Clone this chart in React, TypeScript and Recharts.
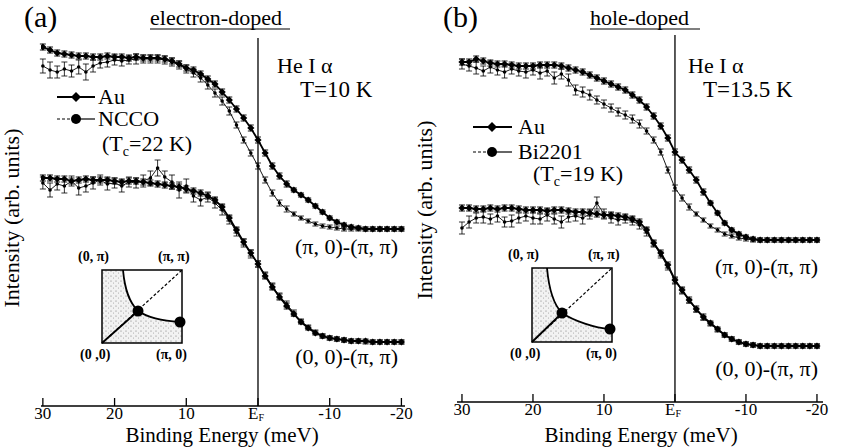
import React from 'react';
import { ComposedChart, Line, XAxis, YAxis, ErrorBar, ReferenceLine } from 'recharts';

// binding energy (meV), one point per meV
const ENERGY = [
  30, 29, 28, 27, 26, 25, 24, 23, 22, 21, 20, 19, 18, 17, 16, 15, 14, 13, 12, 11, 10,
  9, 8, 7, 6, 5, 4, 3, 2, 1, 0, -1, -2, -3, -4, -5, -6, -7, -8, -9, -10,
  -11, -12, -13, -14, -15, -16, -17, -18, -19, -20,
];

// (a) electron-doped, intensities in arb. units
const A_AU_PI0 = [
  359, 356, 353, 352, 351, 350, 350, 349, 349, 350, 349, 349, 348, 349, 348, 348, 348, 347, 345, 342, 338,
  336, 332, 327, 322, 314, 306, 297, 288, 278, 266, 253, 240, 230, 222, 216, 211, 206, 200, 194, 188,
  184, 181, 179, 178, 177, 177, 177, 177, 177, 177,
];
const A_NCCO_PI0 = [
  340, 336, 334, 337, 335, 339, 334, 340, 343, 344, 346, 345, 346, 347, 347, 347, 347, 346, 344, 341, 337,
  333, 328, 321, 313, 305, 295, 281, 266, 253, 240, 226, 213, 203, 197, 192, 188, 185, 182, 180, 179,
  178, 177, 177, 177, 177, 177, 177, 177, 177, 177,
];
const A_AU_00 = [
  228, 228, 227, 227, 225, 226, 227, 226, 226, 226, 225, 224, 225, 225, 224, 223, 222, 221, 220, 219, 217,
  215, 213, 210, 206, 199, 188, 176, 164, 153, 142, 130, 119, 109, 100, 92, 84, 78, 73, 70, 68,
  67, 66, 65, 65, 65, 64, 64, 64, 64, 64,
];
const A_NCCO_00 = [
  223, 216, 222, 220, 225, 218, 220, 223, 226, 222, 223, 220, 224, 223, 225, 228, 238, 229, 224, 216, 220,
  210, 206, 209, 203, 196, 186, 174, 163, 152, 142, 131, 120, 110, 102, 93, 85, 79, 74, 70, 68,
  67, 66, 65, 65, 64, 64, 64, 64, 64, 64,
];
const A_NCCO_PI0_ERR = [
  7, 8, 6, 7, 6, 7, 8, 6, 5, 5, 5, 5, 4, 5, 4, 4, 4, 4, 4, 4, 4,
  4, 4, 4, 4, 4, 4, 3, 3, 3, 3, 3, 3, 3, 3, 2, 2, 2, 2, 2, 2,
  2, 2, 2, 2, 2, 2, 2, 2, 2, 2,
];
const A_NCCO_00_ERR = [
  6, 7, 6, 7, 5, 7, 6, 6, 5, 6, 5, 6, 5, 5, 6, 7, 8, 6, 7, 8, 7,
  6, 6, 5, 5, 5, 4, 4, 4, 4, 3, 3, 3, 3, 3, 3, 2, 2, 2, 2, 2,
  2, 2, 2, 2, 2, 2, 2, 2, 2, 2,
];

// (b) hole-doped
const B_AU_PI0 = [
  340, 340, 343, 341, 339, 338, 338, 337, 336, 336, 336, 337, 337, 337, 336, 334, 332, 330, 327, 324, 321,
  318, 315, 312, 307, 302, 295, 286, 276, 264, 250, 242, 232, 222, 210, 199, 189, 179, 172, 168, 165,
  163, 162, 162, 162, 162, 162, 162, 162, 162, 162,
];
const B_BI_PI0 = [
  338, 336, 334, 331, 335, 332, 330, 333, 331, 330, 332, 329, 331, 324, 328, 322, 312, 310, 307, 302, 298,
  294, 290, 287, 283, 278, 271, 262, 250, 232, 214, 204, 195, 188, 182, 176, 172, 168, 166, 164, 163,
  162, 162, 162, 162, 162, 162, 162, 162, 162, 162,
];
const B_AU_00 = [
  194, 194, 193, 193, 194, 193, 194, 194, 193, 192, 192, 192, 191, 192, 192, 191, 190, 190, 189, 188, 187,
  187, 186, 185, 183, 180, 172, 159, 149, 137, 122, 112, 102, 93, 85, 79, 73, 67, 63, 60, 58,
  57, 56, 56, 56, 56, 56, 56, 56, 56, 56,
];
const B_BI_00 = [
  174, 180, 184, 185, 183, 186, 180, 181, 184, 186, 184, 183, 187, 183, 180, 185, 186, 184, 188, 199, 188,
  184, 182, 183, 181, 177, 170, 158, 147, 135, 121, 111, 101, 92, 84, 78, 72, 67, 63, 60, 58,
  57, 56, 56, 56, 56, 56, 56, 56, 56, 56,
];
const B_BI_PI0_ERR = [
  5, 5, 6, 5, 6, 5, 6, 5, 5, 6, 5, 6, 5, 6, 5, 6, 5, 5, 5, 4, 4,
  4, 4, 4, 4, 4, 3, 3, 3, 3, 3, 3, 3, 2, 2, 2, 2, 2, 2, 2, 2,
  2, 2, 2, 2, 2, 2, 2, 2, 2, 2,
];
const B_BI_00_ERR = [
  6, 6, 5, 6, 5, 6, 5, 6, 5, 5, 6, 5, 6, 5, 6, 5, 5, 6, 5, 6, 5,
  5, 5, 4, 4, 4, 4, 3, 3, 3, 3, 3, 2, 2, 2, 2, 2, 2, 2, 2, 2,
  2, 2, 2, 2, 2, 2, 2, 2, 2, 2,
];

const AU_ERR = [
  3, 3, 3, 3, 3, 3, 3, 3, 3, 3, 3, 3, 3, 3, 3, 3, 3, 3, 3, 3, 3,
  3, 3, 3, 3, 3, 3, 3, 3, 3, 3, 3, 3, 3, 3, 2, 2, 2, 2, 2, 2,
  2, 2, 2, 2, 2, 2, 2, 2, 2, 2,
];

const X_TICKS = [30, 20, 10, 0, -10, -20];

const FONT = '"Liberation Serif", "Times New Roman", serif';

const dataA = ENERGY.map((e, i) => ({
  e,
  au1: A_AU_PI0[i],
  s1: A_NCCO_PI0[i],
  au2: A_AU_00[i],
  s2: A_NCCO_00[i],
  auErr: AU_ERR[i],
  s1Err: A_NCCO_PI0_ERR[i],
  s2Err: A_NCCO_00_ERR[i],
}));

const dataB = ENERGY.map((e, i) => ({
  e,
  au1: B_AU_PI0[i],
  s1: B_BI_PI0[i],
  au2: B_AU_00[i],
  s2: B_BI_00[i],
  auErr: AU_ERR[i],
  s1Err: B_BI_PI0_ERR[i],
  s2Err: B_BI_00_ERR[i],
}));

const BottomTick = ({ x, y, payload }: any) => {
  const v = payload.value;
  return (
    <g>
      <line x1={x} y1={y} x2={x} y2={y - 8} stroke="#000" strokeWidth={1.3} />
      {v === 0 ? (
        <text x={x - 2} y={y + 13} textAnchor="middle" fontFamily={FONT} fontSize={17} fill="#000">
          E<tspan fontSize={10} dy={2}>F</tspan>
        </text>
      ) : (
        <text x={x} y={y + 13} textAnchor="middle" fontFamily={FONT} fontSize={17} fill="#000">
          {String(v)}
        </text>
      )}
    </g>
  );
};

const TopTick = ({ x, y }: any) => (
  <line x1={x} y1={y} x2={x} y2={y + 8} stroke="#000" strokeWidth={1.3} />
);

const AuDot = (props: any) => {
  const { cx, cy } = props;
  if (cx == null || cy == null) return <g />;
  const r = 3.6;
  return <path d={`M${cx},${cy - r}L${cx + r},${cy}L${cx},${cy + r}L${cx - r},${cy}Z`} fill="#000" />;
};

const SampleDot = (props: any) => {
  const { cx, cy } = props;
  if (cx == null || cy == null) return <g />;
  return <circle cx={cx} cy={cy} r={1.8} fill="#000" />;
};

interface PanelProps {
  data: typeof dataA;
  left: number;
  width: number;
  margin: { top: number; right: number; bottom: number; left: number };
  xDomain: [number, number];
  yMax: number;
}

const Panel = ({ data, left, width, margin, xDomain, yMax }: PanelProps) => (
  <div style={{ position: 'absolute', left, top: 0 }}>
    <ComposedChart width={width} height={448} data={data} margin={margin}>
      <XAxis
        dataKey="e"
        type="number"
        domain={xDomain}
        allowDataOverflow
        reversed
        ticks={X_TICKS}
        interval={0}
        height={30}
        tickSize={0}
        tickMargin={0}
        tickLine={false}
        axisLine={{ stroke: '#000', strokeWidth: 1.6 }}
        tick={<BottomTick />}
      />
      <XAxis
        xAxisId="top"
        orientation="top"
        dataKey="e"
        type="number"
        domain={xDomain}
        allowDataOverflow
        reversed
        ticks={X_TICKS}
        interval={0}
        height={0}
        tickSize={0}
        tickMargin={0}
        tickLine={false}
        axisLine={{ stroke: '#000', strokeWidth: 1.6 }}
        tick={<TopTick />}
      />
      <YAxis
        type="number"
        domain={[0, yMax]}
        allowDataOverflow
        width={0}
        tick={false}
        tickLine={false}
        axisLine={{ stroke: '#000', strokeWidth: 1.6 }}
      />
      <YAxis
        yAxisId="right"
        orientation="right"
        type="number"
        domain={[0, yMax]}
        width={0}
        tick={false}
        tickLine={false}
        axisLine={{ stroke: '#000', strokeWidth: 1.6 }}
      />
      <ReferenceLine x={0} stroke="#000" strokeWidth={1.3} />
      <Line dataKey="s1" stroke="#000" strokeWidth={0.9} dot={<SampleDot />} isAnimationActive={false}>
        <ErrorBar dataKey="s1Err" width={3} stroke="#000" strokeWidth={0.8} />
      </Line>
      <Line dataKey="s2" stroke="#000" strokeWidth={0.9} dot={<SampleDot />} isAnimationActive={false}>
        <ErrorBar dataKey="s2Err" width={3} stroke="#000" strokeWidth={0.8} />
      </Line>
      <Line dataKey="au1" stroke="#000" strokeWidth={1.8} dot={<AuDot />} isAnimationActive={false}>
        <ErrorBar dataKey="auErr" width={3} stroke="#000" strokeWidth={0.9} />
      </Line>
      <Line dataKey="au2" stroke="#000" strokeWidth={1.8} dot={<AuDot />} isAnimationActive={false}>
        <ErrorBar dataKey="auErr" width={3} stroke="#000" strokeWidth={0.9} />
      </Line>
    </ComposedChart>
  </div>
);

const Diamond = ({ x, y }: { x: number; y: number }) => (
  <path d={`M${x},${y - 5}L${x + 5},${y}L${x},${y + 5}L${x - 5},${y}Z`} fill="#000" />
);

const Inset = ({ x0, y0, x1, y1, cx, cy, rx, ry, topX }: any) => {
  const arc = `C${topX + 2},${y0 + 22} ${cx - 8},${cy - 8} ${cx},${cy} C${cx + 12},${cy + 8} ${rx - 15},${ry - 1} ${rx},${ry}`;
  const curve = `M${topX},${y0} ${arc}`;
  const fill = `M${x0},${y0} L${topX},${y0} ${arc} L${x1},${ry} L${x1},${y1} L${x0},${y1} Z`;
  const t = { fontFamily: FONT, fontSize: 14, fontWeight: 700, fill: '#000' } as const;
  return (
    <g>
      <path d={fill} fill="url(#stipple)" />
      <rect x={x0} y={y0} width={x1 - x0} height={y1 - y0} fill="none" stroke="#000" strokeWidth={1.5} />
      <line x1={x0} y1={y1} x2={x1} y2={y0} stroke="#000" strokeWidth={1.2} strokeDasharray="3 2" />
      <line x1={x0} y1={y1} x2={cx} y2={cy} stroke="#000" strokeWidth={1.8} />
      <path d={curve} fill="none" stroke="#000" strokeWidth={1.8} />
      <circle cx={cx} cy={cy} r={5.5} fill="#000" />
      <circle cx={rx} cy={ry} r={5.5} fill="#000" />
      <text x={x0 - 24} y={y0 - 9} {...t}>(0, π)</text>
      <text x={x1 - 24} y={y0 - 9} {...t}>(π, π)</text>
      <text x={x0 - 22} y={y1 + 16} {...t}>(0 ,0)</text>
      <text x={x1 - 26} y={y1 + 16} {...t}>(π, 0)</text>
    </g>
  );
};

const Overlay = () => {
  const t = { fontFamily: FONT, fill: '#000' } as const;
  return (
    <svg width={842} height={448} style={{ position: 'absolute', left: 0, top: 0, pointerEvents: 'none' }}>
      <defs>
        <pattern id="stipple" width="5" height="5" patternUnits="userSpaceOnUse">
          <rect width="5" height="5" fill="#f2f2f2" />
          <circle cx="1" cy="1" r="0.6" fill="#777" />
          <circle cx="3.5" cy="3" r="0.5" fill="#999" />
        </pattern>
      </defs>

      {/* panel (a) */}
      <text x={24} y={27} fontSize={30} {...t}>(a)</text>
      <text x={150} y={25} fontSize={22} {...t}>electron-doped</text>
      <line x1={150} y1={29} x2={290} y2={29} stroke="#000" strokeWidth={1.2} />
      <text x={19} y={218} fontSize={22} textAnchor="middle" transform="rotate(-90 19 218)" {...t}>
        Intensity (arb. units)
      </text>
      <text x={222} y={442} fontSize={21} textAnchor="middle" {...t}>Binding Energy (meV)</text>
      <text x={277} y={73} fontSize={22} {...t}>He I α</text>
      <text x={300} y={97} fontSize={23} {...t}>T=10 K</text>
      <line x1={57} y1={97} x2={95} y2={97} stroke="#000" strokeWidth={1.8} />
      <Diamond x={76} y={97} />
      <text x={98} y={104} fontSize={22} {...t}>Au</text>
      <line x1={57} y1={119} x2={72} y2={119} stroke="#000" strokeWidth={1} strokeDasharray="3 2" />
      <line x1={72} y1={119} x2={95} y2={119} stroke="#000" strokeWidth={1.2} />
      <circle cx={76} cy={119} r={5} fill="#000" />
      <text x={98} y={126} fontSize={22} {...t}>NCCO</text>
      <text x={102} y={151} fontSize={22} {...t}>
        (T<tspan fontSize={14} dy={5}>c</tspan><tspan dy={-5}>=22 K)</tspan>
      </text>
      <text x={398} y={254} fontSize={22} textAnchor="end" {...t}>(π, 0)-(π, π)</text>
      <text x={398} y={364} fontSize={22} textAnchor="end" {...t}>(0, 0)-(π, π)</text>
      <Inset x0={102} y0={270} x1={182} y1={343} cx={138} cy={311} rx={180} ry={322} topX={123} />

      {/* panel (b) */}
      <text x={443} y={27} fontSize={30} {...t}>(b)</text>
      <text x={590} y={25} fontSize={22} {...t}>hole-doped</text>
      <line x1={590} y1={29} x2={700} y2={29} stroke="#000" strokeWidth={1.2} />
      <text x={432} y={210} fontSize={22} textAnchor="middle" transform="rotate(-90 432 210)" {...t}>
        Intensity (arb. units)
      </text>
      <text x={641} y={442} fontSize={21} textAnchor="middle" {...t}>Binding Energy (meV)</text>
      <text x={688} y={73} fontSize={22} {...t}>He I α</text>
      <text x={703} y={97} fontSize={23} {...t}>T=13.5 K</text>
      <line x1={473} y1={127} x2={512} y2={127} stroke="#000" strokeWidth={1.8} />
      <Diamond x={492} y={127} />
      <text x={518} y={134} fontSize={22} {...t}>Au</text>
      <line x1={473} y1={152} x2={488} y2={152} stroke="#000" strokeWidth={1} strokeDasharray="3 2" />
      <line x1={488} y1={152} x2={512} y2={152} stroke="#000" strokeWidth={1.2} />
      <circle cx={492} cy={152} r={5} fill="#000" />
      <text x={518} y={159} fontSize={22} {...t}>Bi2201</text>
      <text x={533} y={181} fontSize={22} {...t}>
        (T<tspan fontSize={14} dy={5}>c</tspan><tspan dy={-5}>=19 K)</tspan>
      </text>
      <text x={818} y={274} fontSize={22} textAnchor="end" {...t}>(π, 0)-(π, π)</text>
      <text x={818} y={376} fontSize={22} textAnchor="end" {...t}>(0, 0)-(π, π)</text>
      <Inset x0={532} y0={268} x1={612} y1={342} cx={562} cy={313} rx={610} ry={329} topX={547} />
    </svg>
  );
};

export default function App() {
  return (
    <div style={{ position: 'absolute', left: 0, top: 0, width: 842, height: 448, background: '#fff' }}>
      <Panel
        data={dataA}
        left={0}
        width={420}
        margin={{ top: 38, right: 15, bottom: 12, left: 41 }}
        xDomain={[-20.5, 30.26]}
        yMax={368}
      />
      <Panel
        data={dataB}
        left={420}
        width={422}
        margin={{ top: 35, right: 19, bottom: 16, left: 37 }}
        xDomain={[-20.85, 30.7]}
        yMax={367}
      />
      <Overlay />
    </div>
  );
}
